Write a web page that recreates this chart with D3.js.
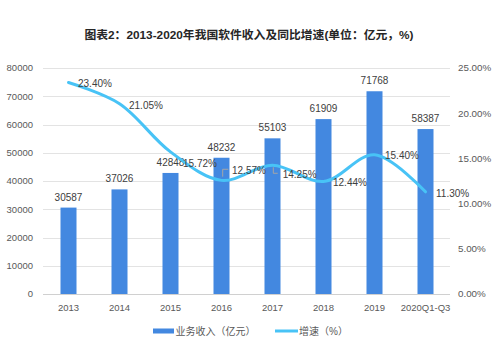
<!DOCTYPE html>
<html><head><meta charset="utf-8">
<script src="https://cdn.jsdelivr.net/npm/d3@7"></script>
<style>body{margin:0;background:#fff;}svg{display:block;}</style>
</head><body>
<script>
const categories = ["2013","2014","2015","2016","2017","2018","2019","2020Q1-Q3"];
const revenue = [30587,37026,42848,48232,55103,61909,71768,58387];
const growth = [23.40,21.05,15.72,12.57,14.25,12.44,15.40,11.30];
const leftTicks = [0,10000,20000,30000,40000,50000,60000,70000,80000];
const rightTicks = [0,5,10,15,20,25];
const title = "图表2：2013-2020年我国软件收入及同比增速(单位：亿元，%)";
const legendNames = ["业务收入（亿元）","增速（%）"];

// label offsets (presentation only)
const growthLabelOffsets = [[9.5,1.5],[9.5,1.3],[12.5,12],[10.5,-9.7],[10.2,9.8],[9.5,1.2],[10.5,1.2],[10.5,1.5]];

(function(){
const W=492,H=355;
const font = "'Liberation Sans','Noto Sans CJK SC',Arial,sans-serif";
const svg = d3.select("body").append("svg").attr("width",W).attr("height",H).style("font-family",font);

const pL=43,pR=451,pT=68,pB=294;
const x = d3.scalePoint().domain(categories).range([pL,pR]).padding(0.5);
const yL = d3.scaleLinear().domain([0,80000]).range([pB,pT]);
const yR = d3.scaleLinear().domain([0,25]).range([pB,pT]);
const barW = 16;
const barColor = "#4388e0", lineColor = "#48c3f6";

svg.append("text").attr("x",249).attr("y",39).attr("text-anchor","middle")
  .attr("font-size",11.8).attr("font-weight","bold").attr("fill","#262626").text(title);

// grid
svg.append("g").selectAll("line").data(leftTicks).join("line")
  .attr("x1",pL).attr("x2",pR-1).attr("y1",d=>Math.round(yL(d))+0.5).attr("y2",d=>Math.round(yL(d))+0.5)
  .attr("stroke",d=>d===0?"#d0d0d0":"#e3e3e3").attr("stroke-width",1);

// left axis labels
svg.append("g").selectAll("text").data(leftTicks).join("text")
  .attr("x",33).attr("y",d=>yL(d)).attr("dy","0.35em").attr("text-anchor","end")
  .attr("font-size",9.5).attr("fill","#595959").text(d=>d);
// right axis labels
svg.append("g").selectAll("text").data(rightTicks).join("text")
  .attr("x",458).attr("y",d=>yR(d)).attr("dy","0.35em").attr("text-anchor","start")
  .attr("font-size",9.8).attr("fill","#595959").text(d=>d.toFixed(2)+"%");
// x labels
svg.append("g").selectAll("text").data(categories).join("text")
  .attr("x",d=>x(d)).attr("y",308).attr("dy","0.35em").attr("text-anchor","middle")
  .attr("font-size",9.5).attr("fill","#595959").text(d=>d);

// bars
svg.append("g").selectAll("rect").data(revenue).join("rect")
  .attr("x",(d,i)=>x(categories[i])-barW/2).attr("width",barW)
  .attr("y",d=>yL(d)).attr("height",d=>pB-yL(d)).attr("fill",barColor);
svg.append("g").selectAll("text").data(revenue).join("text")
  .attr("x",(d,i)=>x(categories[i])).attr("y",d=>yL(d)-10.5).attr("dy","0.35em").attr("text-anchor","middle")
  .attr("font-size",10).attr("fill","#404040").text(d=>d);

// line
const pts = growth.map((g,i)=>[x(categories[i]),yR(g)]);
svg.append("path").attr("d",d3.line().curve(d3.curveCatmullRom.alpha(0.5))(pts))
  .attr("fill","none").attr("stroke",lineColor).attr("stroke-width",3).attr("stroke-linecap","round");

// leader lines
svg.append("path").attr("d",`M${pts[3][0]+1.2},${pts[3][1]-3.7}V${pts[3][1]-11.1}H${pts[3][0]+6.8}`)
  .attr("fill","none").attr("stroke","#a6a6a6").attr("stroke-width",1);
svg.append("path").attr("d",`M${pts[4][0]+0.8},${pts[4][1]+2.1}V${pts[4][1]+8.1}H${pts[4][0]+5.2}`)
  .attr("fill","none").attr("stroke","#a6a6a6").attr("stroke-width",1);

svg.append("g").selectAll("text").data(growth).join("text")
  .attr("x",(d,i)=>pts[i][0]+growthLabelOffsets[i][0]).attr("y",(d,i)=>pts[i][1]+growthLabelOffsets[i][1])
  .attr("dy","0.35em").attr("font-size",10).attr("fill","#404040").text(d=>d.toFixed(2)+"%");

// legend
const lg = svg.append("g");
lg.append("rect").attr("x",153).attr("y",328.5).attr("width",21).attr("height",5).attr("fill",barColor);
lg.append("text").attr("x",175.5).attr("y",331).attr("dy","0.35em").attr("font-size",10).attr("fill","#595959").text(legendNames[0]);
lg.append("line").attr("x1",275).attr("x2",298).attr("y1",331).attr("y2",331).attr("stroke",lineColor).attr("stroke-width",3);
lg.append("text").attr("x",299).attr("y",331).attr("dy","0.35em").attr("font-size",10).attr("fill","#595959").text(legendNames[1]);
})();
</script>
</body></html>
